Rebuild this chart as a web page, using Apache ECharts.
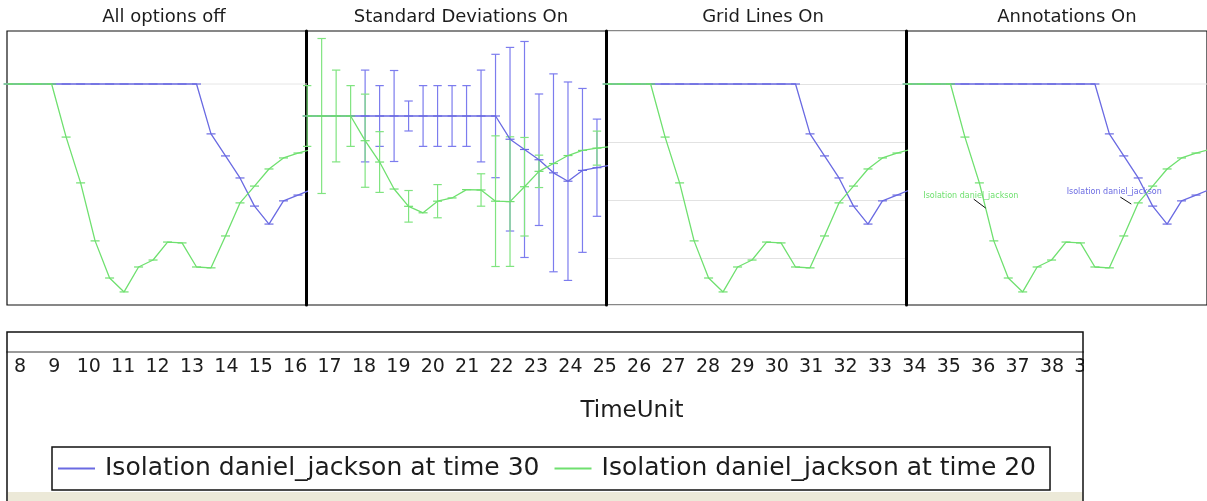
<!DOCTYPE html>
<html><head><meta charset="utf-8">
<script src="https://cdn.jsdelivr.net/npm/echarts@6/dist/echarts.min.js"></script>
<style>html,body{margin:0;padding:0;background:#fff;overflow:hidden}#c{width:1207px;height:501px}</style>
</head><body><div id="c"></div>
<script>
// ---------------- data ----------------
const blueName = 'Isolation daniel_jackson at time 30';
const greenName = 'Isolation daniel_jackson at time 20';
const timePoints   = [0,1,2,3,4,5,6,7,8,9,10,11,12,13,14,15,16,17,18,19,20,21];
const blueValues   = [1,1,1,1,1,1,1,1,1,1,1,1,1,1,0.828,0.752,0.676,0.579,0.517,0.597,0.617,0.637];
const greenValues  = [1,1,1,1,0.817,0.659,0.459,0.331,0.283,0.369,0.393,0.455,0.452,0.369,0.366,0.476,0.590,0.648,0.707,0.745,0.762,0.775];
const blueStdDev   = [0,0,0,0,0.34,0.225,0.337,0.111,0.225,0.225,0.225,0.225,0.34,0.457,0.68,0.80,0.487,0.733,0.735,0.607,0.36,0];
const greenStdDev  = [0.225,0.574,0.34,0.225,0.345,0.225,0,0.117,0,0.123,0,0,0.12,0.484,0.48,0.365,0.12,0,0,0,0.126,0];
const referenceLevel = [1, 1];
const referenceSpan  = [-1, 22];
const panelTitles  = ['All options off','Standard Deviations On','Grid Lines On','Annotations On'];
const timeUnitTicks = [8,9,10,11,12,13,14,15,16,17,18,19,20,21,22,23,24,25,26,27,28,29,30,31,32,33,34,35,36,37,38,39];
const annotationText = 'Isolation daniel_jackson';
const annotations = [
  {series:'green', label:[4.41,0.614], from:[4.61,0.603], to:[5.44,0.572]},
  {series:'blue',  label:[14.34,0.628], from:[14.76,0.610], to:[15.52,0.586]}
];

// ---------------- style / layout ----------------
const FONT = 'DejaVu Sans';
const BLUE = '#6a6ae2', GREEN = '#6fe06f';
const BLUE_SD = '#7c7cee', GREEN_SD = '#80e480';
const PX_PER_T = 14.49;
const panelLefts = [7, 306, 606, 906];
const panelWidths = [299, 300, 300, 302];
const titleCenters = [159, 456, 758, 1062];
const PANEL_TOP = 31, PANEL_H = 274;

const pairs = (vals) => timePoints.map((t,i) => [t, vals[i]]);
const sdItems = (vals, sds) => timePoints.map((t,i) => [t, vals[i], sds[i]]).filter(d => d[2] > 0);

const grids = [], xAxes = [], yAxes = [], series = [];
panelLefts.forEach((left, i) => {
  grids.push({left, top: PANEL_TOP, width: panelWidths[i], height: PANEL_H, show: true,
    borderColor: '#111', borderWidth: 1.2, backgroundColor: '#fff'});
  xAxes.push({gridIndex: i, type: 'value', min: -0.08, max: -0.08 + panelWidths[i] / PX_PER_T,
    axisLine: {show: false}, axisTick: {show: false}, axisLabel: {show: false}, splitLine: {show: false}});
  const yr = i === 1 ? [-0.4, 1.6296] : [0.2379, 1.1828];
  yAxes.push({gridIndex: i, type: 'value', min: yr[0], max: yr[1], splitNumber: 5,
    axisLine: {show: i > 0, onZero: false, lineStyle: {color: '#000', width: 3}},
    axisTick: {show: false}, axisLabel: {show: false},
    splitLine: {show: i === 2, lineStyle: {color: '#e2e2e2', width: 1}}});
});

function errorBar(params, api) {
  const t = api.value(0), v = api.value(1), sd = api.value(2);
  const a = api.coord([t, v + sd]), b = api.coord([t, v - sd]);
  const h = 4.2;
  const style = {stroke: api.visual('color'), lineWidth: 1.2};
  return {type: 'group', children: [
    {type: 'line', shape: {x1: a[0], y1: a[1], x2: b[0], y2: b[1]}, style},
    {type: 'line', shape: {x1: a[0]-h, y1: a[1], x2: a[0]+h, y2: a[1]}, style},
    {type: 'line', shape: {x1: b[0]-h, y1: b[1], x2: b[0]+h, y2: b[1]}, style}
  ]};
}

panelLefts.forEach((_, i) => {
  if (i === 0 || i === 3) {
    series.push({name: 'reference', type: 'line', xAxisIndex: i, yAxisIndex: i, z: 1, silent: true,
      symbol: 'none', data: referenceSpan.map((t, k) => [t, referenceLevel[k]]),
      lineStyle: {color: '#e6e6e6', width: 1}});
  }
  if (i === 1) {
    series.push({name: 'sd30', type: 'custom', xAxisIndex: i, yAxisIndex: i, renderItem: errorBar,
      itemStyle: {color: BLUE_SD}, data: sdItems(blueValues, blueStdDev), z: 1, silent: true});
    series.push({name: 'sd20', type: 'custom', xAxisIndex: i, yAxisIndex: i, renderItem: errorBar,
      itemStyle: {color: GREEN_SD}, data: sdItems(greenValues, greenStdDev), z: 1, silent: true});
  }
  const common = {type: 'line', xAxisIndex: i, yAxisIndex: i, symbol: 'rect', symbolSize: [9, 1.2],
    showSymbol: true, clip: true, silent: true};
  series.push(Object.assign({}, common, {name: blueName, data: pairs(blueValues), z: 3,
    itemStyle: {color: BLUE}, lineStyle: {color: BLUE, width: 1.3}}));
  const g = Object.assign({}, common, {name: greenName, data: pairs(greenValues), z: 4,
    itemStyle: {color: GREEN}, lineStyle: {color: GREEN, width: 1.3}});
  if (i === 3) {
    g.markPoint = {silent: true, symbol: 'circle', symbolSize: 0,
      data: annotations.map(a => ({coord: a.label, label: {show: true, position: 'inside',
        formatter: annotationText, fontSize: 8, fontFamily: FONT,
        color: a.series === 'green' ? GREEN : BLUE}}))};
    g.markLine = {silent: true, symbol: ['none','arrow'], symbolSize: [0, 6], label: {show: false},
      lineStyle: {color: '#111', width: 1, type: 'solid'},
      data: annotations.map(a => [{coord: a.from}, {coord: a.to}])};
  }
  series.push(g);
});

// bottom axis strip
grids.push({left: 7, top: 332, width: 1100, height: 20, show: false});
xAxes.push({gridIndex: 4, type: 'value', min: 8 - 13/34.4, max: 8 - 13/34.4 + 1100/34.4,
  axisLine: {show: true, lineStyle: {color: '#9a9a9a', width: 2}}, axisTick: {show: false},
  splitLine: {show: false},
  axisLabel: {customValues: timeUnitTicks, fontFamily: FONT, fontSize: 19, color: '#1c1c1c', margin: 6,
    showMinLabel: true, showMaxLabel: true, hideOverlap: false}});
yAxes.push({gridIndex: 4, type: 'value', show: false, min: 0, max: 1});
series.push({name: 'axisHolder', type: 'line', xAxisIndex: 4, yAxisIndex: 4, data: [], silent: true});

const titles = panelTitles.map((text, i) => ({text, left: titleCenters[i], top: 3, textAlign: 'center',
  textStyle: {fontFamily: FONT, fontSize: 18, fontWeight: 'normal', color: '#1c1c1c'}}));
titles.push({text: 'TimeUnit', left: 627, top: 395, textAlign: 'center',
  textStyle: {fontFamily: FONT, fontSize: 23, fontWeight: 'normal', color: '#1c1c1c'}});

const option = {
  animation: false,
  backgroundColor: '#fff',
  title: titles,
  grid: grids, xAxis: xAxes, yAxis: yAxes, series,
  legend: {data: [blueName, greenName], left: 52, top: 447, orient: 'horizontal',
    borderColor: '#111', borderWidth: 1.5, padding: [9, 14, 9, 6], itemGap: 15,
    itemWidth: 37, itemHeight: 2, icon: 'rect', selectedMode: false,
    textStyle: {fontFamily: FONT, fontSize: 25, color: '#1c1c1c', padding: [0,0,0,5]}},
  graphic: [
    {type: 'rect', z: 100, silent: true, shape: {x: 1084, y: 333, width: 130, height: 110}, style: {fill: '#fff'}},
    {type: 'rect', z: 101, silent: true, shape: {x: 8, y: 492, width: 1074.5, height: 12}, style: {fill: '#ECE9D8'}},
    {type: 'rect', z: 102, silent: true, shape: {x: 7, y: 332, width: 1076, height: 190},
      style: {fill: 'none', stroke: '#111', lineWidth: 1.5}}
  ]
};
const chart = echarts.init(document.getElementById('c'), null, {renderer: 'canvas'});
chart.setOption(option);
</script></body></html>
